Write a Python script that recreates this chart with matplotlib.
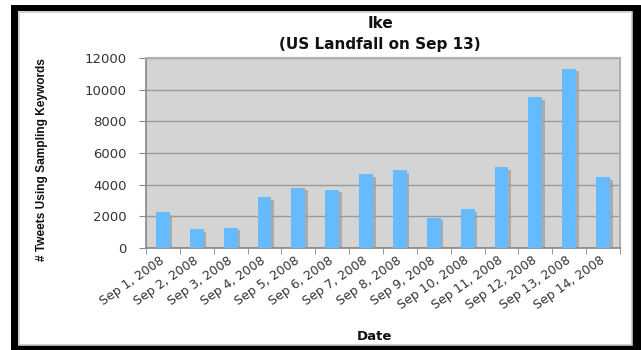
import numpy as np
import matplotlib
matplotlib.use("Agg")
import matplotlib.pyplot as plt
import matplotlib.transforms as mtransforms
from matplotlib.patches import Rectangle

dates = ["Sep 1, 2008", "Sep 2, 2008", "Sep 3, 2008", "Sep 4, 2008",
         "Sep 5, 2008", "Sep 6, 2008", "Sep 7, 2008", "Sep 8, 2008",
         "Sep 9, 2008", "Sep 10, 2008", "Sep 11, 2008", "Sep 12, 2008",
         "Sep 13, 2008", "Sep 14, 2008"]
tweets = [2250, 1180, 1280, 3220, 3800, 3680, 4650, 4900,
          1900, 2450, 5100, 9520, 11320, 4480]
y_ticks = [0, 2000, 4000, 6000, 8000, 10000, 12000]

W, H = 641, 350
fig = plt.figure(figsize=(W / 100, H / 100), dpi=100)
fig.patch.set_facecolor("white")

# black frame with a faint grey inner edge
def px_rect(x0, y0, x1, y1, **kw):
    fig.patches.append(Rectangle((x0 / W, 1 - y1 / H), (x1 - x0) / W, (y1 - y0) / H,
                                 transform=fig.transFigure, **kw))

px_rect(11, 5, 641, 11, color="black", lw=0)
px_rect(11, 5, 18, 350, color="black", lw=0)
px_rect(632, 5, 641, 350, color="black", lw=0)
px_rect(11, 345, 641, 350, color="black", lw=0)
px_rect(18.5, 11.5, 631.5, 344.5, fill=False, ec="#c8c8c8", lw=1.2)

ax = fig.add_axes([146 / W, 1 - 248 / H, (620 - 146) / W, (248 - 58) / H])
ax.set_facecolor("#d4d4d4")

x = np.arange(len(dates))
shadow = mtransforms.offset_copy(ax.transData, fig=fig, x=2.5, y=-2.5, units="dots")
ax.bar(x, tweets, width=0.41, color="#9a9a9a", alpha=0.7, transform=shadow, zorder=2)
ax.bar(x, tweets, width=0.41, color="#66bbff", zorder=3)

ax.set_xlim(-0.5, len(dates) - 0.5)
ax.set_ylim(0, 12000)
ax.set_yticks(y_ticks)
ax.set_yticklabels([str(v) for v in y_ticks], fontsize=9.5, color="#333333")
ax.yaxis.grid(True, color="#9a9a9a", lw=1)
ax.set_axisbelow(True)

ax.set_xticks(x)
ax.set_xticklabels(dates, rotation=35, ha="right", va="center", rotation_mode="anchor",
                   fontsize=9, color="#333333")
label_shift = mtransforms.ScaledTranslation(-8 / 100, -2 / 100, fig.dpi_scale_trans)
for lbl in ax.get_xticklabels():
    lbl.set_transform(lbl.get_transform() + label_shift)
ax.set_xticks(np.arange(len(dates) + 1) - 0.5, minor=True)
ax.tick_params(axis="x", which="major", length=0, pad=8)
ax.tick_params(axis="x", which="minor", length=4, color="#888888")
ax.tick_params(axis="y", length=5, color="#888888", pad=9)

for side in ("left", "bottom"):
    ax.spines[side].set_color("#888888")
    ax.spines[side].set_linewidth(1.2)
for side in ("top", "right"):
    ax.spines[side].set_color("#b0b0b0")
    ax.spines[side].set_linewidth(1.5)

fig.text(380 / W, 1 - 24 / H, "Ike", ha="center", va="center",
         fontsize=11, fontweight="bold", color="#111111")
fig.text(380 / W, 1 - 44 / H, "(US Landfall on Sep 13)", ha="center", va="center",
         fontsize=11, fontweight="bold", color="#111111")
fig.text(42 / W, 1 - 160 / H, "# Tweets Using Sampling Keywords", rotation=90,
         ha="center", va="center", fontsize=8.6, fontweight="bold",
         family=["Liberation Sans", "DejaVu Sans"], color="#111111")
fig.text(374 / W, 1 - 337 / H, "Date", ha="center", va="center",
         fontsize=9.5, fontweight="bold", color="#111111")

fig.savefig("out.png", dpi=100)
